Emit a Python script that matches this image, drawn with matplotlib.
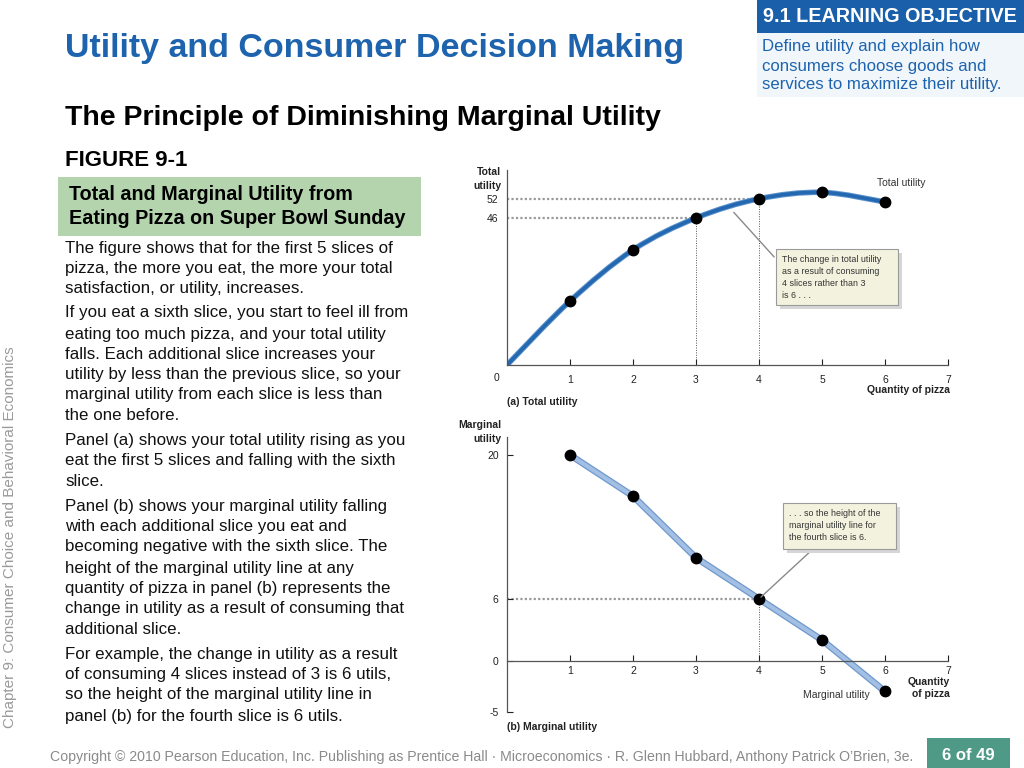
import numpy as np
import matplotlib
matplotlib.use('Agg')
import matplotlib.pyplot as plt
from matplotlib import font_manager
from matplotlib.path import Path
from matplotlib.patches import PathPatch, Rectangle

# data
quantity = [0, 1, 2, 3, 4, 5, 6]
total_utility = [0, 20, 36, 46, 52, 54, 51]
mu_quantity = [1, 2, 3, 4, 5, 6]
marginal_utility = [20, 16, 10, 6, 2, -3]
x_ticks = [1, 2, 3, 4, 5, 6, 7]
mu_yticks = [-5, 0, 6, 20]

body_lines = [
    ("The figure shows that for the first 5 slices of", 248),
    ("pizza, the more you eat, the more your total", 269),
    ("satisfaction, or utility, increases.", 289),
    ("If you eat a sixth slice, you start to feel ill from", 313),
    ("eating too much pizza, and your total utility", 334),
    ("falls. Each additional slice increases your", 354),
    ("utility by less than the previous slice, so your", 375),
    ("marginal utility from each slice is less than", 395),
    ("the one before.", 416),
    ("Panel (a) shows your total utility rising as you", 440),
    ("eat the first 5 slices and falling with the sixth", 461),
    ("slice.", 481),
    ("Panel (b) shows your marginal utility falling", 506),
    ("with each additional slice you eat and", 527),
    ("becoming negative with the sixth slice. The", 547),
    ("height of the marginal utility line at any", 568),
    ("quantity of pizza in panel (b) represents the", 588),
    ("change in utility as a result of consuming that", 609),
    ("additional slice.", 629),
    ("For example, the change in utility as a result", 654),
    ("of consuming 4 slices instead of 3 is 6 utils,", 675),
    ("so the height of the marginal utility line in", 695),
    ("panel (b) for the fourth slice is 6 utils.", 716),
]


def pick_font(names):
    for n in names:
        try:
            font_manager.findfont(n, fallback_to_default=False)
            return n
        except Exception:
            pass
    return 'DejaVu Sans'


SANS = pick_font(['Liberation Sans', 'Arial', 'DejaVu Sans'])
plt.rcParams['font.family'] = SANS
plt.rcParams['axes.unicode_minus'] = False

BLUE = '#1d63ad'
INK = '#222222'
W, H = 1024, 768
fig = plt.figure(figsize=(10.24, 7.68), dpi=100)


def px(x0, y0, x1, y1):
    return [x0 / W, 1 - y1 / H, (x1 - x0) / W, (y1 - y0) / H]


def style_axes(ax):
    for s in ['top', 'right']:
        ax.spines[s].set_visible(False)
    for s in ['left', 'bottom']:
        ax.spines[s].set_color('#555555')
        ax.spines[s].set_linewidth(0.9)


# ---- panel (a): total utility ----
ax1 = fig.add_axes(px(507, 170, 948, 365))
pts = np.array(list(zip(quantity, total_utility)), dtype=float)
ext = np.vstack([pts[0], pts, pts[-1]])
path_v = [tuple(pts[0])]
codes = [Path.MOVETO]
for i in range(len(pts) - 1):
    p0, p1, p2, p3 = ext[i], ext[i + 1], ext[i + 2], ext[i + 3]
    path_v += [tuple(p1 + (p2 - p0) / 6), tuple(p2 - (p3 - p1) / 6), tuple(p2)]
    codes += [Path.CURVE4] * 3
curve = Path(path_v, codes)
ax1.add_patch(PathPatch(curve, fc='none', ec='#5d93cc', lw=4.0, capstyle='round', zorder=2))
ax1.add_patch(PathPatch(curve, fc='none', ec='#2368b0', lw=2.6, capstyle='round', zorder=2))
ax1.plot(quantity[1:], total_utility[1:], 'o', color='black', ms=7.5, zorder=3)
for q, u in [(3, total_utility[3]), (4, total_utility[4])]:
    ax1.plot([0, q], [u, u], ls=(0, (1, 1)), color='#9a9a9a', lw=1.6, zorder=1)
    ax1.plot([q, q], [0, u], ls=(0, (1, 1.5)), color='#555555', lw=0.7, zorder=1)
ax1.set_xlim(0, 7)
ax1.set_ylim(0, 61)
ax1.set_xticks(x_ticks)
ax1.set_yticks([total_utility[3], total_utility[4]])
ax1.tick_params(axis='x', direction='in', length=4, width=0.8, pad=7, labelsize=7.5, colors=INK)
ax1.tick_params(axis='y', length=0, pad=6, labelsize=7.5, colors=INK)
style_axes(ax1)
ax1.text(5.87, 56.9, 'Total utility', fontsize=7.5, color='#333333', va='center')
ax1.annotate('', xy=(3.57, 48.4), xytext=(776, H - 259), textcoords='figure pixels',
             arrowprops=dict(arrowstyle='-', color='#8a8a8a', lw=1.0))

# ---- panel (b): marginal utility ----
ax2 = fig.add_axes(px(507, 437, 948, 712))
ax2.plot(mu_quantity, marginal_utility, color='#6f98cc', lw=4.8, zorder=2, solid_capstyle='round')
ax2.plot(mu_quantity, marginal_utility, color='#a3c0e4', lw=3.0, zorder=2, solid_capstyle='round')
ax2.plot(mu_quantity, marginal_utility, 'o', color='black', ms=7.5, zorder=3)
ax2.plot([0, 4], [6, 6], ls=(0, (1, 1)), color='#9a9a9a', lw=1.6, zorder=1)
ax2.plot([4, 4], [0, 6], ls=(0, (1, 1.5)), color='#555555', lw=0.7, zorder=1)
ax2.set_xlim(0, 7)
ax2.set_ylim(-5, 21.75)
ax2.set_xticks(x_ticks)
ax2.set_yticks(mu_yticks)
ax2.spines['bottom'].set_position(('data', 0))
ax2.tick_params(axis='x', direction='in', length=4, width=0.8, pad=4, labelsize=7.5, colors=INK)
ax2.tick_params(axis='y', direction='in', length=4, width=0.8, pad=6, labelsize=7.5, colors=INK)
style_axes(ax2)
ax2.text(5.76, -3.3, 'Marginal utility', fontsize=7.5, color='#333333', ha='right', va='center')
ax2.annotate('', xy=(4, 6), xytext=(813, H - 549), textcoords='figure pixels',
             arrowprops=dict(arrowstyle='-', color='#8a8a8a', lw=1.0))

# ---- overlay for slide text, in pixel coordinates ----
ov = fig.add_axes([0, 0, 1, 1], zorder=5)
ov.set_xlim(0, W)
ov.set_ylim(H, 0)
ov.axis('off')
ov.patch.set_alpha(0)

ov.text(65, 48, 'Utility and Consumer Decision Making', fontsize=24.5, weight='bold', color=BLUE, va='center')
ov.text(65, 118, 'The Principle of Diminishing Marginal Utility', fontsize=20.5, weight='bold', color='black', va='center')
ov.text(65, 160, 'FIGURE 9-1', fontsize=16, weight='bold', color='black', va='center')
ov.add_patch(Rectangle((58, 177), 363, 59, fc='#b4d4ae', ec='none'))
ov.text(69, 195, 'Total and Marginal Utility from', fontsize=14.2, weight='bold', va='center')
ov.text(69, 219, 'Eating Pizza on Super Bowl Sunday', fontsize=14.2, weight='bold', va='center')
for line, y in body_lines:
    ov.text(65, y, line, fontsize=12.2, va='center', color='#111111')

ov.text(10, 537, 'Chapter 9: Consumer Choice and Behavioral Economics', rotation=90,
        fontsize=11, color='#9a9a9a', ha='center', va='center')

# learning objective box
ov.add_patch(Rectangle((757, 0), 267, 33, fc='#1a5fa9', ec='none'))
ov.add_patch(Rectangle((757, 33), 267, 64, fc='#f1f6fb', ec='none'))
ov.text(763, 17, '9.1 LEARNING OBJECTIVE', fontsize=14.2, weight='bold', color='white', va='center')
for txt, y in [('Define utility and explain how', 46), ('consumers choose goods and', 66),
               ('services to maximize their utility.', 85)]:
    ov.text(762, y, txt, fontsize=12.1, color=BLUE, va='center')

# axis titles
ov.text(501, 179, 'Total\nutility', fontsize=7.5, weight='bold', ha='right', va='center', linespacing=1.45, color=INK)
ov.text(497, 378, '0', fontsize=7.5, ha='center', va='center', color=INK)
ov.text(950, 390, 'Quantity of pizza', fontsize=7.5, weight='bold', ha='right', va='center', color=INK)
ov.text(507, 402, '(a) Total utility', fontsize=7.5, weight='bold', va='center', color=INK)
ov.text(501, 432, 'Marginal\nutility', fontsize=7.5, weight='bold', ha='right', va='center', linespacing=1.45, color=INK)
ov.text(950, 688, 'Quantity\nof pizza', fontsize=7.5, weight='bold', ha='right', va='center', linespacing=1.3, color=INK)
ov.text(507, 727, '(b) Marginal utility', fontsize=7.5, weight='bold', va='center', color=INK)

# callout boxes
for (x0, y0, x1, y1), lines in [
    ((776, 249, 898, 305), ['The change in total utility', 'as a result of consuming',
                            '4 slices rather than 3', 'is 6 . . .']),
    ((783, 503, 896, 549), ['. . . so the height of the', 'marginal utility line for',
                            'the fourth slice is 6.'])]:
    ov.add_patch(Rectangle((x0 + 4, y0 + 4), x1 - x0, y1 - y0, fc='#d6d6d6', ec='none'))
    ov.add_patch(Rectangle((x0, y0), x1 - x0, y1 - y0, fc='#f3f2de', ec='#9a9a9a', lw=0.8))
    for k, l in enumerate(lines):
        ov.text(x0 + 6, y0 + 10 + k * 12, l, fontsize=6.4, color='#333333', va='center')

# footer
ov.text(50, 757, "Copyright \u00a9 2010 Pearson Education, Inc. Publishing as Prentice Hall \u00b7 "
        "Microeconomics \u00b7 R. Glenn Hubbard, Anthony Patrick O\u2019Brien, 3e.",
        fontsize=10.15, color='#8a8a8a', va='center')
ov.add_patch(Rectangle((927, 738), 83, 30, fc='#4e9a86', ec='none'))
ov.text(968, 755, '6 of 49', fontsize=12, weight='bold', color='white', ha='center', va='center')

fig.savefig('out.png', dpi=100)
